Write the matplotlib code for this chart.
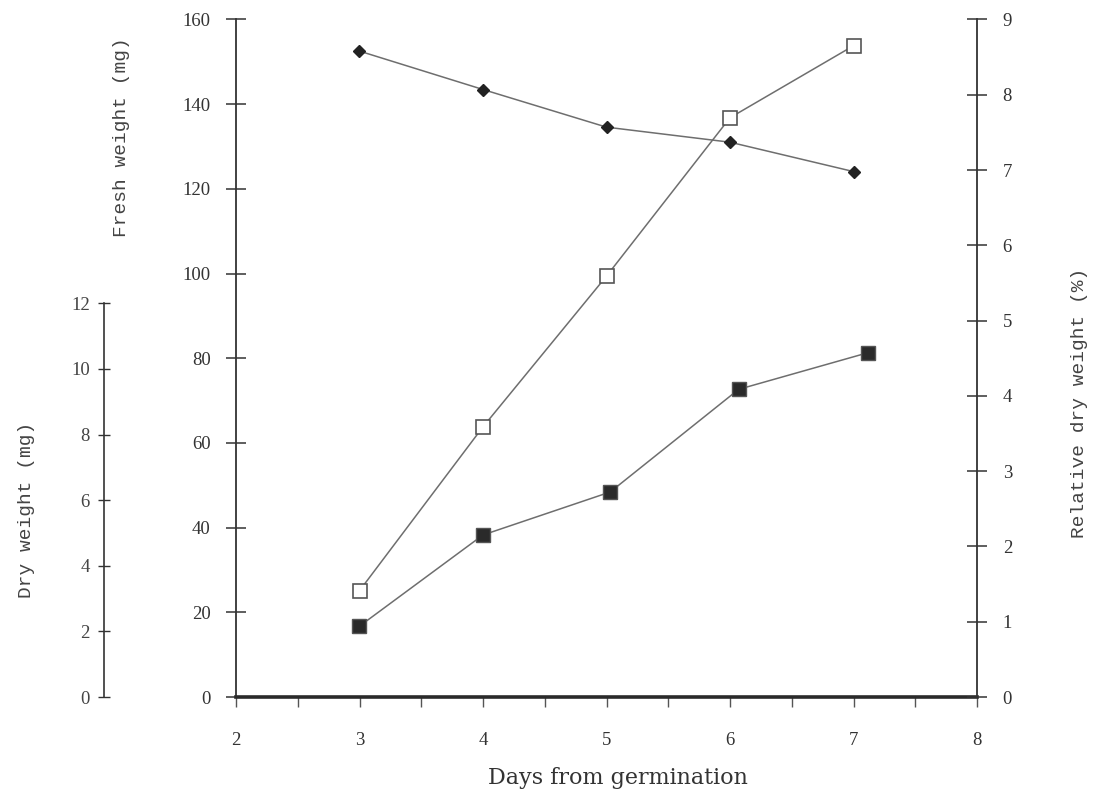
import matplotlib
matplotlib.use("Agg")
import matplotlib.pyplot as plt
from matplotlib.ticker import MultipleLocator

# data
days = [3, 4, 5, 6, 7]
fresh_weight = [25.1, 63.8, 99.4, 136.8, 153.8]          # mg, open squares
rel_dry_weight = [8.58, 8.07, 7.57, 7.37, 6.98]          # %, diamonds
dry_days = [3, 4, 5.03, 6.07, 7.12]
dry_weight = [2.16, 4.94, 6.25, 9.38, 10.5]              # mg, filled squares

fresh_ticks = [0, 20, 40, 60, 80, 100, 120, 140, 160]
rel_ticks = list(range(0, 10))
dry_ticks = [0, 2, 4, 6, 8, 10, 12]
day_ticks = [2, 3, 4, 5, 6, 7, 8]

ink = '#333333'
line_c = '#6e6e6e'
tick_font = {'family': 'Liberation Serif', 'size': 13.5}

fig = plt.figure(figsize=(11.07, 8), dpi=100)
W, H = 1107, 800
ax = fig.add_axes([236 / W, 1 - 697 / H, 741 / W, 677.5 / H])
ax_r = ax.twinx()
ax_d = ax.twinx()

# fresh weight (left axis)
ax.plot(days, fresh_weight, color=line_c, lw=1.1, marker='s', ms=10,
        mfc='white', mec='#555555', mew=1.2, zorder=3)
ax.set_xlim(2, 8)
ax.set_ylim(0, 160)
ax.set_yticks(fresh_ticks)
ax.set_xticks(day_ticks)
ax.xaxis.set_minor_locator(MultipleLocator(0.5))
for s in ['top', 'right']:
    ax.spines[s].set_visible(False)
ax.spines['left'].set_color(ink)
ax.spines['left'].set_linewidth(1.3)
ax.spines['bottom'].set_color('#2a2a2a')
ax.spines['bottom'].set_linewidth(2.6)
ax.tick_params(axis='y', direction='inout', length=14.4, width=1.1, color=ink,
               pad=11, labelcolor=ink)
ax.tick_params(axis='x', which='both', direction='out', length=7, width=1.0,
               color='#555555', pad=18, labelcolor=ink)
for lab in ax.get_xticklabels() + ax.get_yticklabels():
    lab.set_fontfamily(tick_font['family'])
    lab.set_fontsize(tick_font['size'])

# relative dry weight (right axis)
ax_r.plot(days, rel_dry_weight, color=line_c, lw=1.1, marker='D', ms=6.5,
          mfc='#222222', mec='#222222', zorder=3)
ax_r.set_ylim(0, 9)
ax_r.set_yticks(rel_ticks)
for s in ['top', 'left', 'bottom']:
    ax_r.spines[s].set_visible(False)
ax_r.spines['right'].set_color(ink)
ax_r.spines['right'].set_linewidth(1.3)
ax_r.tick_params(axis='y', direction='inout', length=15, width=1.1, color=ink,
                 pad=11, labelcolor=ink)
for lab in ax_r.get_yticklabels():
    lab.set_fontfamily(tick_font['family'])
    lab.set_fontsize(tick_font['size'])

# dry weight (separate axis on far left)
ax_d.plot(dry_days, dry_weight, color=line_c, lw=1.1, marker='s', ms=10.5,
          mfc='#2a2a2a', mec='#555555', mew=1.0, zorder=3)
ax_d.set_ylim(0, 677.5 / 32.8)
ax_d.set_yticks(dry_ticks)
for s in ['top', 'right', 'bottom']:
    ax_d.spines[s].set_visible(False)
ax_d.spines['left'].set_visible(True)
ax_d.spines['left'].set_position(('axes', (104 - 236) / 741))
ax_d.spines['left'].set_bounds(0, 12)
ax_d.spines['left'].set_color(ink)
ax_d.spines['left'].set_linewidth(1.2)
ax_d.yaxis.set_ticks_position('left')
ax_d.yaxis.set_label_position('left')
ax_d.tick_params(axis='y', direction='inout', length=8.6, width=1.0, color=ink,
                 pad=6, labelcolor='#444444')
for lab in ax_d.get_yticklabels():
    lab.set_fontfamily(tick_font['family'])
    lab.set_fontsize(tick_font['size'])

# axis titles
lab_font = dict(family='Liberation Mono', size=14, color='#444444',
                rotation=90, ha='center', va='center')
fig.text(121 / W, 1 - 137 / H, 'Fresh weight (mg)', **lab_font)
fig.text(27 / W, 1 - 510 / H, 'Dry weight (mg)', **lab_font)
fig.text(1080 / W, 1 - 403 / H, 'Relative dry weight (%)', **lab_font)
fig.text(618 / W, 1 - 778 / H, 'Days from germination', family='DejaVu Serif',
         size=16, color='#333333', ha='center', va='center')

fig.savefig('out.png', dpi=100)
